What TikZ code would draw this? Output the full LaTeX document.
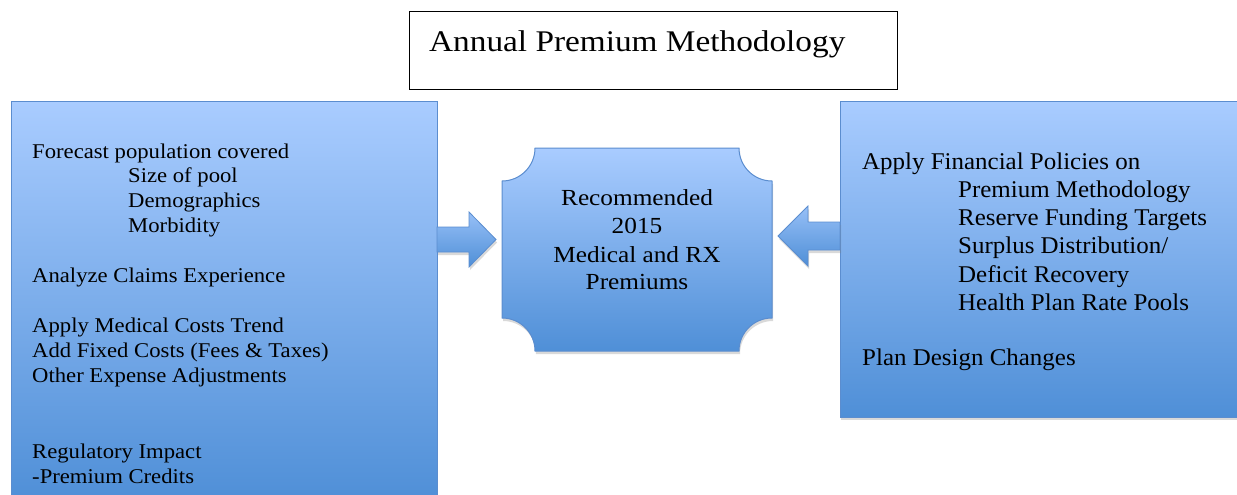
\documentclass[tikz,border=0pt]{standalone}
\usepackage{fontspec}
\setmainfont{Liberation Serif}
\newfontfamily\leftface[FakeStretch=1.08]{Liberation Serif}
\newfontfamily\rightface[FakeStretch=1.04]{Liberation Serif}
\newfontfamily\centreface[FakeStretch=1.10]{Liberation Serif}
\newfontfamily\titleface[FakeStretch=1.11]{Liberation Serif}
\usetikzlibrary{calc,shadows}
\definecolor{boxtop}{HTML}{A9CCFF}
\definecolor{boxbot}{HTML}{4F8FD7}
\definecolor{boxline}{HTML}{5B8DCF}
\begin{document}
\begin{tikzpicture}[x=1pt,y=-1pt,
  panel/.style={draw=boxline, line width=1pt, top color=boxtop, bottom color=boxbot,
    inner sep=0pt, outer sep=0pt, anchor=north west,
    drop shadow={shadow xshift=1pt, shadow yshift=-3pt, opacity=0.3}},
  blockarrow/.style={draw=boxline, line width=0.8pt, top color=boxtop!80!boxbot, bottom color=boxbot,
    drop shadow={shadow xshift=1pt, shadow yshift=-3pt, opacity=0.3}},
  ltxt/.style={anchor=base west, inner sep=0pt, font=\leftface\fontsize{21}{25}\selectfont},
  rtxt/.style={anchor=base west, inner sep=0pt, font=\rightface\fontsize{24}{28}\selectfont},
  ctxt/.style={anchor=base, inner sep=0pt, font=\centreface\fontsize{23}{28}\selectfont},
  ttxt/.style={anchor=base west, inner sep=0pt, font=\titleface\fontsize{30}{36}\selectfont}]
\useasboundingbox (0,0) rectangle (1237,495);
\clip (0,0) rectangle (1237,495);

% title
\node[draw=black, line width=1.2pt, minimum width=488pt, minimum height=78pt,
  inner sep=0pt, anchor=north west] (title) at (409,11) {};
\node[ttxt] (ttl) at (429,52) {Annual Premium Methodology};

% side panels
\node[panel, minimum width=426pt, minimum height=400pt] (L) at (11,101) {};
\node[panel, minimum width=410pt, minimum height=316pt] (R) at (840,101) {};

% centre plaque
\path[panel, draw=boxline]
  (535,148) -- (739,148) arc[start angle=180, end angle=270, radius=33pt]
  -- (772,318) arc[start angle=90, end angle=180, radius=33pt]
  -- (535,351) arc[start angle=0, end angle=90, radius=33pt]
  -- (502,181) arc[start angle=270, end angle=360, radius=33pt] -- cycle;

% block arrows into the plaque
\path[blockarrow] (L.east |- 0,227) -- (469,227) -- (469,212) -- (496,239.5)
  -- (469,267) -- (469,252) -- (L.east |- 0,252) -- cycle;
\path[blockarrow] (R.west |- 0,222) -- (808,222) -- (808,206) -- (778,236)
  -- (808,266) -- (808,250) -- (R.west |- 0,250) -- cycle;

% left panel text
\node[ltxt] (l1) at (32,158) {Forecast population covered};
\node[ltxt] (l2) at (128,182) {Size of pool};
\node[ltxt] (l3) at (128,207) {Demographics};
\node[ltxt] (l4) at (128,232) {Morbidity};
\node[ltxt] (l5) at (32,282) {Analyze Claims Experience};
\node[ltxt] (l6) at (32,332) {Apply Medical Costs Trend};
\node[ltxt] (l7) at (32,357) {Add Fixed Costs (Fees \& Taxes)};
\node[ltxt] (l8) at (32,382) {Other Expense Adjustments};
\node[ltxt] (l9) at (32,458) {Regulatory Impact};
\node[ltxt] (l10) at (32,483) {-Premium Credits};

% centre text
\node[ctxt] (c1) at (637,205) {Recommended};
\node[ctxt] (c2) at (637,233) {2015};
\node[ctxt] (c3) at (637,262) {Medical and RX};
\node[ctxt] (c4) at (637,289) {Premiums};

% right panel text
\node[rtxt] (r1) at (862,169) {Apply Financial Policies on};
\node[rtxt] (r2) at (958,197) {Premium Methodology};
\node[rtxt] (r3) at (958,225) {Reserve Funding Targets};
\node[rtxt] (r4) at (958,253) {Surplus Distribution/};
\node[rtxt] (r5) at (958,282) {Deficit Recovery};
\node[rtxt] (r6) at (958,310) {Health Plan Rate Pools};
\node[rtxt] (r7) at (862,365) {Plan Design Changes};
\end{tikzpicture}
\end{document}
